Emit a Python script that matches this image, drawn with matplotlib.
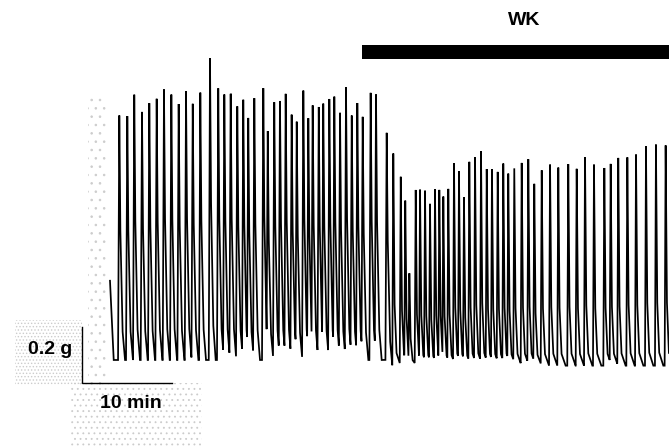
"""
Isometric tension trace: spontaneous contractions before and during WK.

Peaks are listed as (time, force) pairs; each contraction is drawn as a
fast rise and a decay back to the resting tone.
"""

import numpy as np
import matplotlib
matplotlib.use("Agg")
import matplotlib.pyplot as plt
from matplotlib.patches import Rectangle

# control period (min, g)
CTRL_T = [1.03, 1.91, 2.68, 3.53, 4.34, 5.15, 5.96, 6.77, 7.58, 8.39, 9.13,
          9.97, 11.04, 11.95, 12.62, 13.32, 14.05, 14.71, 15.26, 15.93, 16.92,
          17.41, 18.13, 18.76, 19.39, 20.05, 20.61, 21.34, 21.89, 22.37, 23.04,
          23.54, 24.21, 24.76, 25.39, 26.05, 26.68, 27.30, 27.89, 28.77, 29.36,
          30.54]
CTRL_G = [0.874, 0.873, 0.944, 0.887, 0.908, 0.933, 0.958, 0.947, 0.908, 0.958,
          0.915, 0.947, 1.067, 0.961, 0.947, 0.954, 0.908, 0.926, 0.862, 0.926,
          0.972, 0.813, 0.915, 0.926, 0.944, 0.873, 0.845, 0.954, 0.855, 0.912,
          0.901, 0.908, 0.929, 0.936, 0.880, 0.965, 0.873, 0.912, 0.862, 0.944,
          0.944, 0.809]

# after WK added
WK_T = [31.27, 32.09, 32.59, 33.04, 33.74, 34.22, 34.77, 35.32, 35.87, 36.35,
        36.79, 37.34, 37.97, 38.52, 39.07, 39.66, 40.29, 40.95, 41.58, 42.16,
        42.79, 43.41, 43.96, 44.62, 45.44, 46.17, 46.83, 47.65, 48.57, 49.48,
        50.58, 51.51, 52.43, 53.42, 54.56, 55.26, 56.10, 57.10, 58.06, 59.16,
        60.26, 61.33]
WK_G = [0.736, 0.654, 0.565, 0.312, 0.609, 0.604, 0.601, 0.555, 0.608, 0.604,
        0.583, 0.611, 0.701, 0.671, 0.577, 0.704, 0.728, 0.745, 0.681, 0.674,
        0.674, 0.697, 0.660, 0.689, 0.699, 0.713, 0.628, 0.677, 0.699, 0.689,
        0.703, 0.686, 0.724, 0.695, 0.689, 0.701, 0.715, 0.728, 0.730, 0.756,
        0.762, 0.760]

START_G = 0.28          # tension where the recording begins
CTRL_BASE = 0.0
WK_BASE = -0.02
WK_ON = 27.8            # drug application (min)
REC_END = 61.7

SCALE_G = 0.2
SCALE_MIN = 10


def pulse(t, tp, amp, knots):
    dt, frac = knots
    return np.interp(t - tp, dt, np.asarray(frac) * amp, left=0, right=0)


def build_trace():
    t = np.linspace(0, REC_END, 12000)
    base = np.where(t < (CTRL_T[-1] + WK_T[0]) / 2, CTRL_BASE, WK_BASE)
    ctrl_shape = ([-0.14, 0, 0.1, 0.35, 0.62], [0, 1, 0.55, 0.12, 0])
    wk_shape = ([-0.11, 0, 0.13, 0.35, 0.8], [0, 1, 0.3, 0.06, 0])
    env = np.zeros_like(t)
    env = np.maximum(env, pulse(t, 0.0, START_G - CTRL_BASE,
                                ([-0.1, 0, 0.4], [0, 1, 0])))
    for tp, g in zip(CTRL_T, CTRL_G):
        env = np.maximum(env, pulse(t, tp, g - CTRL_BASE, ctrl_shape))
    for tp, g in zip(WK_T, WK_G):
        env = np.maximum(env, pulse(t, tp, g - WK_BASE, wk_shape))
    return t, base + env


def plot():
    fig = plt.figure(figsize=(6.69, 4.48), dpi=100)
    ax = fig.add_axes([0, 0, 1, 1])
    ax.set_xlim(-12.14, REC_END)
    ax.set_ylim(-0.311, 1.272)
    ax.axis("off")

    # faint halftone left over on the scanned chart paper
    plt.rcParams["hatch.linewidth"] = 0.6
    for (x, y, w, h), hatch in [((-10.5, -0.09, 7.4, 0.23), "....."),
                                ((-4.3, -0.31, 14.5, 0.23), "..."),
                                ((-2.4, -0.09, 2.1, 1.02), "..")]:
        ax.add_patch(Rectangle((x, y), w, h, facecolor="none",
                               edgecolor="#cccccc", hatch=hatch, lw=0,
                               zorder=0))

    t, y = build_trace()
    ax.plot(t, y, color="black", lw=1.25, solid_joinstyle="miter")

    # drug bar + label
    ax.broken_barh([(WK_ON, REC_END - WK_ON + 1)], (1.062, 0.051),
                   facecolors="black")
    ax.text(45.7, 1.198, "WK", ha="center", va="center", fontsize=14,
            family="Liberation Sans", fontweight="bold")

    # calibration bars
    x0, y0 = -3.12, -0.082
    ax.plot([x0, x0, x0 + SCALE_MIN], [y0 + SCALE_G, y0, y0],
            color="black", lw=1.0, solid_joinstyle="miter")
    ax.text(x0 - 1.0, y0 + 0.6 * SCALE_G, f"{SCALE_G} g", ha="right",
            va="center", fontsize=14, family="Liberation Sans",
            fontweight="bold")
    ax.text(x0 + SCALE_MIN / 2 + 0.4, y0 - 0.073, f"{SCALE_MIN} min",
            ha="center", va="center", fontsize=14, family="Liberation Sans",
            fontweight="bold")

    fig.savefig("out.png", dpi=100, facecolor="white")
    plt.close(fig)


if __name__ == "__main__":
    plot()
